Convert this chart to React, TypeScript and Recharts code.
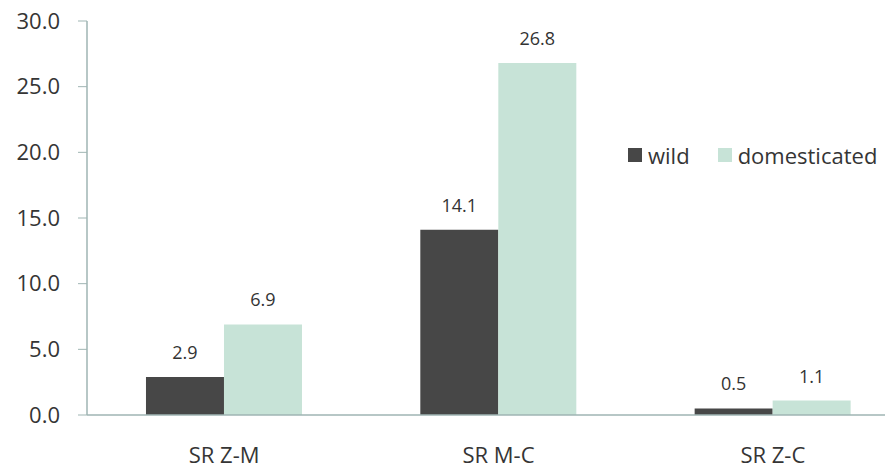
import React from "react";
import { BarChart, Bar, XAxis, YAxis, Legend, LabelList } from "recharts";

const categories = ["SR Z-M", "SR M-C", "SR Z-C"];
const wild = [2.9, 14.1, 0.5];
const domesticated = [6.9, 26.8, 1.1];
const yTicks = [0, 5, 10, 15, 20, 25, 30];
const seriesOrder = ["wild", "domesticated"];

const data = categories.map((c, i) => ({ name: c, wild: wild[i], domesticated: domesticated[i] }));

const FONT = "'Open Sans', sans-serif";
const WILD = "#474747";
const DOM = "#c7e3d7";
const AXIS = "#9fb5b3";
const TEXT = "#353535";

const LegendContent = (props: any) => {
  const items = [...(props.payload || [])].sort(
    (a: any, b: any) => seriesOrder.indexOf(a.value) - seriesOrder.indexOf(b.value)
  );
  return (
    <div style={{ display: "flex", alignItems: "center", fontFamily: FONT, fontSize: 22, color: TEXT, whiteSpace: "nowrap" }}>
      {items.map((it: any, i: number) => (
        <div key={i} style={{ display: "flex", alignItems: "center", marginRight: 28 }}>
          <span style={{ display: "inline-block", width: 14, height: 14, background: it.color, marginRight: 6 }} />
          <span>{it.value}</span>
        </div>
      ))}
    </div>
  );
};

export default function App() {
  return (
    <div style={{ position: "fixed", left: 0, top: 0, width: 885, height: 468, overflow: "hidden", background: "#fff" }}>
      <BarChart
        width={930}
        height={468}
        data={data}
        margin={{ top: 21, right: 20, bottom: 23, left: 27 }}
        barCategoryGap="21.5%"
        barGap={0}
      >
        <XAxis
          dataKey="name"
          axisLine={{ stroke: AXIS, strokeWidth: 1.5 }}
          tickLine={false}
          tickMargin={26}
          height={30}
          tick={{ fontFamily: FONT, fontSize: 22, fill: TEXT }}
        />
        <YAxis
          domain={[0, 30]}
          ticks={yTicks}
          interval={0}
          width={60}
          axisLine={{ stroke: AXIS, strokeWidth: 1.5 }}
          tickLine={{ stroke: AXIS }}
          tickSize={9}
          tickMargin={18}
          tickFormatter={(v: number) => v.toFixed(1)}
          tick={{ fontFamily: FONT, fontSize: 22, fill: TEXT }}
        />
        <Legend
          layout="horizontal"
          verticalAlign="middle"
          align="center"
          content={<LegendContent />}
          wrapperStyle={{ position: "absolute", left: 628, top: 140, width: 300 }}
        />
        <Bar dataKey="wild" name="wild" fill={WILD} isAnimationActive={false}>
          <LabelList dataKey="wild" position="top" offset={18} formatter={(v: number) => v.toFixed(1)} style={{ fontFamily: FONT, fontSize: 18, fill: "#333" }} />
        </Bar>
        <Bar dataKey="domesticated" name="domesticated" fill={DOM} isAnimationActive={false}>
          <LabelList dataKey="domesticated" position="top" offset={18} formatter={(v: number) => v.toFixed(1)} style={{ fontFamily: FONT, fontSize: 18, fill: "#333" }} />
        </Bar>
      </BarChart>
    </div>
  );
}
